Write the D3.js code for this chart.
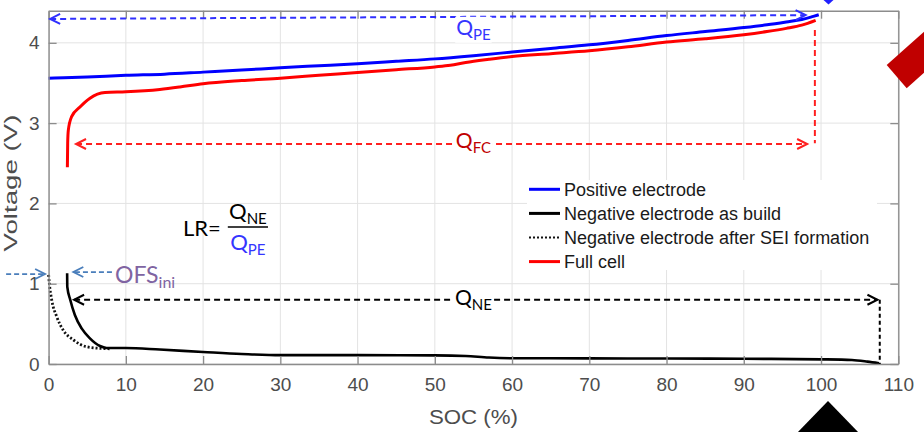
<!DOCTYPE html>
<html>
<head>
<meta charset="utf-8">
<script src="https://cdn.jsdelivr.net/npm/d3@7"></script>
<style>
  body { margin: 0; background: #fff; }
  svg { display: block; }
</style>
</head>
<body>
<div id="chart"></div>
<script>
// ---- data ----
const xTicks = [0, 10, 20, 30, 40, 50, 60, 70, 80, 90, 100, 110];
const yTicks = [0, 1, 2, 3, 4];

// positive electrode
const posSoc = [0, 2, 5, 10, 15, 20, 25, 30, 35, 40, 45, 50, 55, 60, 65, 70, 75, 80, 85, 90, 93, 95.5, 97.5, 99, 99.7];
const posV   = [3.56, 3.565, 3.575, 3.595, 3.61, 3.635, 3.66, 3.69, 3.715, 3.74, 3.77, 3.80, 3.84, 3.885, 3.93, 3.975, 4.03, 4.09, 4.14, 4.19, 4.225, 4.26, 4.29, 4.33, 4.35];

// full cell
const fullSoc = [2.43, 2.47, 2.55, 2.98, 4.06, 5.36, 7.3, 10, 14.4, 17, 20, 25, 30, 35, 40, 45, 50, 52, 54, 57, 60, 65, 70, 75, 80, 85, 90, 93, 95.5, 97.5, 99.3];
const fullV   = [2.45, 2.75, 2.91, 3.08, 3.20, 3.31, 3.38, 3.39, 3.42, 3.45, 3.49, 3.53, 3.56, 3.595, 3.63, 3.665, 3.70, 3.72, 3.755, 3.795, 3.83, 3.865, 3.90, 3.95, 4.01, 4.05, 4.10, 4.14, 4.18, 4.22, 4.28];

// negative electrode as build
const negSoc = [2.4, 2.42, 2.8, 3.4, 4.3, 5.35, 6.65, 7.5, 10, 14.4, 20, 25, 30, 40, 50, 54, 57, 60, 70, 80, 90, 100, 104, 106, 107.5];
const negV   = [1.13, 0.96, 0.80, 0.61, 0.44, 0.32, 0.224, 0.20, 0.2, 0.18, 0.15, 0.125, 0.11, 0.11, 0.108, 0.10, 0.08, 0.072, 0.07, 0.068, 0.065, 0.058, 0.05, 0.03, 0.01];

// negative electrode after SEI formation
const seiSoc = [0, 0.1, 0.4, 1.05, 1.9, 3.2, 4.9, 6.65, 8];
const seiV   = [1.11, 1.0, 0.80, 0.59, 0.42, 0.30, 0.215, 0.195, 0.19];

const legendNames = ['Positive electrode', 'Negative electrode as build', 'Negative electrode after SEI formation', 'Full cell'];

// annotation arrows: [soc start, V start, soc end, V end]
const arrowPE = [0.2, 4.297, 98, 4.345];
const arrowFC = [3.55, 2.74, 98.2, 2.74];
const arrowNE = [3.3, 0.80, 107.3, 0.80];
const dropFC  = [99.2, 4.16, 99.2, 2.75];
const dropNE  = [107.6, 0.80, 107.6, 0.0];
const ofsIn   = [-5.5, 1.12, -0.45, 1.12];
const ofsOut  = [8.2, 1.145, 3.2, 1.145];

// ---- layout ----
const W = 924, H = 432;
const margin = { top: 10.7, right: 25.7, bottom: 68, left: 48.6 };
const width = W - margin.left - margin.right;
const height = H - margin.top - margin.bottom;
const labelFont = 'Lato, "Open Sans", sans-serif';
const axisFont = '"Liberation Sans", Arial, sans-serif';

const svgRoot = d3.select('#chart').append('svg').attr('width', W).attr('height', H);
const svg = svgRoot.append('g').attr('transform', `translate(${margin.left},${margin.top})`);

const x = d3.scaleLinear().domain([0, 110]).range([0, width]);
const y = d3.scaleLinear().domain([0, 4.4]).range([height, 0]);

// gridlines
svg.append('g').selectAll('line').data(xTicks).join('line')
    .attr('x1', d => x(d)).attr('x2', d => x(d)).attr('y1', 0).attr('y2', height)
    .attr('stroke', '#e3e3e3').attr('stroke-width', 1);
svg.append('g').selectAll('line').data(yTicks).join('line')
    .attr('y1', d => y(d)).attr('y2', d => y(d)).attr('x1', 0).attr('x2', width)
    .attr('stroke', '#e3e3e3').attr('stroke-width', 1);

// curves
const line = d3.line().x(d => x(d[0])).y(d => y(d[1])).curve(d3.curveMonotoneX);
const zip = (a, b) => a.map((v, i) => [v, b[i]]);

svg.append('path').datum(zip(seiSoc, seiV)).attr('d', line)
    .attr('fill', 'none').attr('stroke', '#111').attr('stroke-width', 2.8).attr('stroke-dasharray', '2,2');
svg.append('path').datum(zip(negSoc, negV)).attr('d', line)
    .attr('fill', 'none').attr('stroke', '#000').attr('stroke-width', 2.6);
svg.append('path').datum(zip(posSoc, posV)).attr('d', line)
    .attr('fill', 'none').attr('stroke', '#0000ff').attr('stroke-width', 3);
svg.append('path').datum(zip(fullSoc, fullV)).attr('d', line)
    .attr('fill', 'none').attr('stroke', '#ff0000').attr('stroke-width', 3);

// axes box with inward ticks
function styleAxis(g) {
    g.select('.domain').attr('stroke', '#8c8c8c').attr('stroke-width', 1.4);
    g.selectAll('.tick line').attr('stroke', '#8c8c8c').attr('stroke-width', 1.3);
    g.selectAll('.tick text').attr('fill', '#4d4d4d').style('font-family', axisFont).style('font-size', '19px');
}
svg.append('g').attr('transform', `translate(0,${height})`)
    .call(d3.axisBottom(x).tickValues(xTicks).tickFormat(d3.format('d')).tickSizeInner(-8).tickSizeOuter(0).tickPadding(14))
    .call(styleAxis);
svg.append('g')
    .call(d3.axisLeft(y).tickValues(yTicks).tickFormat(d3.format('d')).tickSizeInner(-8).tickSizeOuter(0).tickPadding(9))
    .call(styleAxis);
svg.append('g')
    .call(d3.axisTop(x).tickValues(xTicks).tickSizeInner(-8).tickSizeOuter(0).tickFormat(''))
    .call(styleAxis);
svg.append('g').attr('transform', `translate(${width},0)`)
    .call(d3.axisRight(y).tickValues(yTicks).tickSizeInner(-8).tickSizeOuter(0).tickFormat(''))
    .call(styleAxis);

// axis titles
svg.append('text').attr('x', width / 2).attr('y', height + 60).attr('text-anchor', 'middle')
    .attr('fill', '#4d4d4d').style('font-family', axisFont).style('font-size', '20px')
    .attr('textLength', 89).attr('lengthAdjust', 'spacingAndGlyphs')
    .text('SOC (%)');
svg.append('text').attr('transform', `translate(${17.5 - margin.left},${183 - margin.top}) rotate(-90)`)
    .attr('text-anchor', 'middle')
    .attr('fill', '#4d4d4d').style('font-family', axisFont).style('font-size', '18px')
    .attr('textLength', 137).attr('lengthAdjust', 'spacingAndGlyphs')
    .text('Voltage (V)');

// dashed arrows
function arrow(a, color, dash, w, heads) {
    const x1 = x(a[0]), y1 = y(a[1]), x2 = x(a[2]), y2 = y(a[3]);
    svg.append('line').attr('x1', x1).attr('y1', y1).attr('x2', x2).attr('y2', y2)
        .attr('stroke', color).attr('stroke-width', w).attr('stroke-dasharray', dash);
    const head = (tx, ty, fx, fy) => {
        const len = Math.hypot(tx - fx, ty - fy), ux = (tx - fx) / len, uy = (ty - fy) / len;
        const bx = tx - ux * 10, by = ty - uy * 10;
        svg.append('path')
            .attr('d', `M${bx - uy * 5},${by + ux * 5}L${tx},${ty}L${bx + uy * 5},${by - ux * 5}`)
            .attr('fill', 'none').attr('stroke', color).attr('stroke-width', w);
    };
    if (heads === 'both' || heads === 'start') head(x1, y1, x2, y2);
    if (heads === 'both' || heads === 'end') head(x2, y2, x1, y1);
}
arrow(arrowPE, '#3030ff', '6,4', 2, 'both');
arrow(arrowFC, '#ff2020', '6,4', 2, 'both');
arrow(dropFC, '#ff2020', '6,4', 2, 'none');
arrow(arrowNE, '#000', '6,4', 2, 'both');
arrow(dropNE, '#000', '4,3', 2, 'none');
arrow(ofsIn, '#4a7ebb', '5,3', 1.8, 'end');
arrow(ofsOut, '#4a7ebb', '5,3', 1.8, 'end');

// labels with subscripts
function subLabel(px, py, main, sub, color, size, subSize, anchor, bg) {
    const t = svg.append('text').attr('x', px).attr('y', py).attr('text-anchor', anchor)
        .attr('fill', color).style('font-family', labelFont).style('font-size', size + 'px');
    t.append('tspan').text(main);
    t.append('tspan').attr('dy', 5).style('font-size', subSize + 'px').text(sub);
    if (bg) {
        const b = t.node().getBBox();
        svg.insert('rect', () => t.node())
            .attr('x', b.x - 1).attr('y', b.y + 3).attr('width', b.width + 2).attr('height', b.height - 3)
            .attr('fill', '#fff');
    }
    return t;
}
subLabel(x(55), y(4.10), 'Q', 'PE', '#3535ff', 21, 15, 'middle', true);
subLabel(x(55), y(2.69), 'Q', 'FC', '#c00000', 21, 15, 'middle', true);
subLabel(x(55), y(0.735), 'Q', 'NE', '#000', 21, 15, 'middle', true);
subLabel(x(8.6), y(1.01), 'OFS', 'ini', '#8064a2', 23, 16, 'start', false);

// LR = QNE / QPE
const lrX = x(17.4), lrY = y(1.6);
svg.append('text').attr('x', lrX).attr('y', lrY).attr('fill', '#000')
    .style('font-family', labelFont).style('font-size', '22px').text('LR=');
const fx0 = x(23.2), fx1 = x(28.4);
subLabel((fx0 + fx1) / 2, y(1.81), 'Q', 'NE', '#000', 22, 15, 'middle', false);
svg.append('line').attr('x1', fx0).attr('x2', fx1).attr('y1', y(1.707)).attr('y2', y(1.707))
    .attr('stroke', '#000').attr('stroke-width', 1.5);
subLabel((fx0 + fx1) / 2, y(1.425), 'Q', 'PE', '#3535ff', 22, 15, 'middle', false);

// legend
const legend = svg.append('g').attr('transform', `translate(${527 - margin.left},${180 - margin.top})`);
legend.append('rect').attr('width', 350).attr('height', 90).attr('fill', '#fff');
const legendStroke = ['#0000ff', '#000', '#111', '#ff0000'];
const legendDash = [null, null, '2,2', null];
legendNames.forEach((name, i) => {
    const cy = 9.3 + i * 24.1;
    legend.append('line').attr('x1', 2).attr('x2', 33).attr('y1', cy).attr('y2', cy)
        .attr('stroke', legendStroke[i]).attr('stroke-width', i === 2 ? 2.2 : 3)
        .attr('stroke-dasharray', legendDash[i]);
    legend.append('text').attr('x', 37).attr('y', cy + 6.5).attr('fill', '#1a1a1a')
        .style('font-family', axisFont).style('font-size', '18px').text(name);
});

// slide decorations around the chart
svgRoot.append('polygon').attr('points', '886.7,65 906.7,88.3 944,55 924,31.7').attr('fill', '#c00000');
svgRoot.append('polygon').attr('points', '828,401 796,434 860,434').attr('fill', '#000');
svgRoot.append('polygon').attr('points', '823.5,0 833.5,0 828.5,4.5').attr('fill', '#2020ff');
</script>
</body>
</html>
